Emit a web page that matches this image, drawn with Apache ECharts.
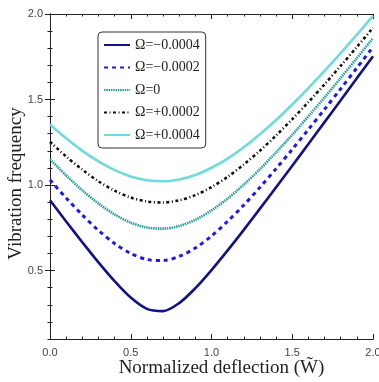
<!DOCTYPE html>
<html>
<head>
<meta charset="utf-8">
<script src="https://cdn.jsdelivr.net/npm/echarts@6/dist/echarts.min.js"></script>
<style>
html,body{margin:0;padding:0;background:#fff;}
#chart{width:379px;height:382px;}
</style>
</head>
<body>
<div id="chart"></div>
<script>
// ---- data ----
const xValues = [0.0,0.1,0.2,0.3,0.4,0.5,0.6,0.7,0.8,0.9,1.0,1.1,1.2,1.3,1.4,1.5,1.6,1.7,1.8,1.9,2.0];
const omegaNeg4 = [0.911,0.787,0.666,0.548,0.438,0.342,0.276,0.263,0.310,0.397,0.503,0.618,0.738,0.862,0.987,1.113,1.240,1.368,1.496,1.625,1.753];
const omegaNeg2 = [1.030,0.924,0.825,0.735,0.658,0.600,0.565,0.559,0.583,0.632,0.702,0.788,0.883,0.987,1.096,1.209,1.325,1.443,1.563,1.685,1.807];
const omegaZero = [1.151,1.056,0.969,0.892,0.828,0.780,0.752,0.745,0.761,0.797,0.852,0.921,1.003,1.093,1.191,1.294,1.402,1.512,1.626,1.742,1.859];
const omegaPos2 = [1.253,1.167,1.090,1.022,0.967,0.927,0.904,0.898,0.911,0.941,0.988,1.048,1.120,1.201,1.290,1.385,1.485,1.589,1.697,1.807,1.920];
const omegaPos4 = [1.354,1.273,1.200,1.138,1.087,1.050,1.028,1.022,1.033,1.059,1.101,1.155,1.221,1.297,1.380,1.471,1.567,1.667,1.771,1.879,1.989];
const seriesNames = ['Ω=−0.0004','Ω=−0.0002','Ω=0','Ω=+0.0002','Ω=+0.0004'];
const xMajorTicks = [0.0,0.5,1.0,1.5,2.0];
const xMinorTicks = [0.1,0.2,0.3,0.4,0.6,0.7,0.8,0.9,1.1,1.2,1.3,1.4,1.6,1.7,1.8,1.9];
const yMajorTicks = [0.5,1.0,1.5,2.0];
const yMinorTicks = [0.1,0.2,0.3,0.4,0.6,0.7,0.8,0.9,1.1,1.2,1.3,1.4,1.6,1.7,1.8,1.9];
const xTitle = 'Normalized deflection (W\u0303)';
const yTitle = 'Vibration frequency';

const X_MIN = 0, X_MAX = 2, Y_MIN = 0.1, Y_MAX = 2.0;

const chart = echarts.init(document.getElementById('chart'), null, {renderer:'canvas'});

function pairs(ys){ return xValues.map((x,i)=>[x, ys[i]]); }

const labelFont = {fontFamily:'Liberation Sans', fontSize:11, color:'#444'};

function xAx(pos, major, showLabel, extra){
  return Object.assign({
    type:'value', position:pos, min:X_MIN, max:X_MAX, gridIndex:0,
    splitLine:{show:false},
    axisLine:{show:true, lineStyle:{color:'#222', width:1}},
    axisTick:{show:true, inside:true, length: major?5:2.5, customValues: major?xMajorTicks:xMinorTicks, lineStyle:{color:'#222'}},
    axisLabel:{show:showLabel, customValues:xMajorTicks, formatter:v=>v.toFixed(1), margin:8, ...labelFont}
  }, extra||{});
}
function yAx(pos, major, showLabel, lineColor, extra){
  return Object.assign({
    type:'value', position:pos, min:Y_MIN, max:Y_MAX, gridIndex:0,
    splitLine:{show:false},
    axisLine:{show:true, lineStyle:{color:lineColor, width:1}},
    axisTick:{show:true, inside:true, length: major?5:2.5, customValues: major?yMajorTicks:yMinorTicks, lineStyle:{color:'#222'}},
    axisLabel:{show:showLabel, customValues:yMajorTicks, formatter:v=>v.toFixed(1), margin:7, ...labelFont}
  }, extra||{});
}

const styles = [
  {color:'#11118a', width:2.6, type:'solid'},
  {color:'#1a1af0', width:3, type:[4,4]},
  {color:'#2a9e9e', width:2.6, type:[1.5,0.8]},
  {color:'#111111', width:2.6, type:[3,2.5,1,2.5]},
  {color:'#6fdcdc', width:2.6, type:'solid'}
];
const dataSets = [omegaNeg4, omegaNeg2, omegaZero, omegaPos2, omegaPos4];

chart.setOption({
  animation:false,
  backgroundColor:'#fff',
  grid:{left:50, right:6, top:14, bottom:43, containLabel:false, outerBoundsMode:'none'},
  xAxis:[
    xAx('bottom', true, true, {name:xTitle, nameLocation:'middle', nameGap:20, nameMoveOverlap:false,
        nameTextStyle:{fontFamily:'Liberation Serif', fontSize:19, color:'#222', padding:[0,0,0,20]}}),
    xAx('bottom', false, false),
    xAx('top', true, false),
    xAx('top', false, false)
  ],
  yAxis:[
    yAx('left', true, true, '#999', {name:yTitle, nameLocation:'middle', nameGap:24, nameMoveOverlap:false,
        nameTextStyle:{fontFamily:'Liberation Serif', fontSize:19, color:'#222', padding:[0,14,0,0]}}),
    yAx('left', false, false, '#999'),
    yAx('right', true, false, '#222'),
    yAx('right', false, false, '#222')
  ],
  legend:{
    show:true, orient:'vertical', left:98, top:32,
    backgroundColor:'#fff', borderColor:'#333', borderWidth:1, borderRadius:4,
    padding:[6,6,6,5], itemWidth:26, itemHeight:12, itemGap:8.5,
    itemStyle:{opacity:0},
    textStyle:{fontFamily:'Liberation Serif', fontSize:14, color:'#222'},
    data:seriesNames
  },
  series: dataSets.map((d,i)=>({
    name:seriesNames[i], type:'line', xAxisIndex:0, yAxisIndex:0,
    data:pairs(d), smooth:0.3, showSymbol:false, symbol:'none',
    lineStyle:{color:styles[i].color, width:styles[i].width, type:styles[i].type},
    itemStyle:{color:styles[i].color},
    z: 10-i
  }))
});
</script>
</body>
</html>
